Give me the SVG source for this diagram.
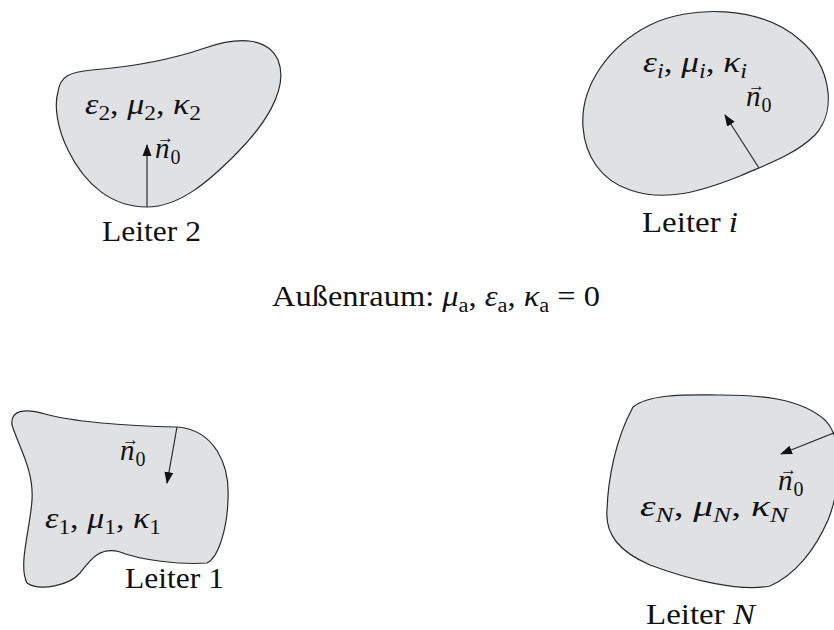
<svg xmlns="http://www.w3.org/2000/svg" width="834" height="630" viewBox="0 0 834 630">
<style>
.blob{fill:#e0e1e3;stroke:#2a2a2a;stroke-width:1.2}
.t{font-family:"Liberation Serif","Times New Roman",serif;font-size:29px;fill:#111}
.mi{font-style:italic}
.sub{font-size:20px}
.vec{font-size:17px;font-style:normal}
.arr{stroke:#2a2a2a;stroke-width:1.2;fill:none;marker-end:url(#ah)}
</style>
<defs>
<marker id="ah" viewBox="0 0 12 10" refX="11" refY="5" markerWidth="12" markerHeight="10" markerUnits="userSpaceOnUse" orient="auto">
<path d="M0,0.5 L12,5 L0,9.5 Z" fill="#111"/>
</marker>
</defs>
<rect width="834" height="630" fill="#fff"/>

<g id="leiter2">
<path class="blob" d="M 58,92 C 60,76 70,72 92,70 C 130,67 170,60 205,48 C 240,36 268,38 278,60 C 290,90 262,128 235,155 C 210,180 180,207 147,207 C 112,207 85,185 68,150 C 57,128 54,105 58,92 Z"/>
<text class="t" x="85" y="114" textLength="116" lengthAdjust="spacingAndGlyphs"><tspan class="mi">ε</tspan><tspan class="sub" dy="6">2</tspan><tspan dy="-6">, </tspan><tspan class="mi">μ</tspan><tspan class="sub" dy="6">2</tspan><tspan dy="-6">, </tspan><tspan class="mi">κ</tspan><tspan class="sub" dy="6">2</tspan></text>
<text class="t" x="155" y="158"><tspan class="mi">n</tspan><tspan class="vec" dx="-12.5" dy="-15">→</tspan><tspan class="sub" dx="-3.5" dy="21">0</tspan></text>
<text class="t" x="102" y="241" textLength="99" lengthAdjust="spacingAndGlyphs">Leiter 2</text>
</g>

<g id="leiteri">
<path class="blob" d="M 583,127 C 580,85 610,45 650,25 C 690,5 760,5 800,40 C 830,65 838,110 815,135 C 795,155 765,165 740,176 C 700,192 665,202 630,190 C 600,180 585,155 583,127 Z"/>
<text class="t" x="643" y="72" textLength="104" lengthAdjust="spacingAndGlyphs"><tspan class="mi">ε</tspan><tspan class="sub mi" dy="6">i</tspan><tspan dy="-6">, </tspan><tspan class="mi">μ</tspan><tspan class="sub mi" dy="6">i</tspan><tspan dy="-6">, </tspan><tspan class="mi">κ</tspan><tspan class="sub mi" dy="6">i</tspan></text>
<text class="t" x="746" y="106"><tspan class="mi">n</tspan><tspan class="vec" dx="-12.5" dy="-15">→</tspan><tspan class="sub" dx="-3.5" dy="21">0</tspan></text>
<text class="t" x="642" y="232" textLength="96" lengthAdjust="spacingAndGlyphs">Leiter <tspan class="mi">i</tspan></text>
</g>

<g id="aussenraum">
<text class="t" x="272" y="306" textLength="328" lengthAdjust="spacingAndGlyphs">Außenraum: <tspan class="mi">μ</tspan><tspan class="sub" dy="6">a</tspan><tspan dy="-6">, </tspan><tspan class="mi">ε</tspan><tspan class="sub" dy="6">a</tspan><tspan dy="-6">, </tspan><tspan class="mi">κ</tspan><tspan class="sub" dy="6">a</tspan><tspan dy="-6"> = 0</tspan></text>
</g>

<g id="leiter1">
<path class="blob" d="M 12,425 C 10,410 25,408 45,414 C 70,421 120,426 177,427 C 215,430 230,465 228,500 C 227,530 218,558 207,563 C 180,565 140,560 120,552 C 100,546 90,560 80,573 C 70,585 40,592 27,583 C 18,565 30,530 32,500 C 34,470 18,445 12,425 Z"/>
<text class="t" x="120" y="460"><tspan class="mi">n</tspan><tspan class="vec" dx="-12.5" dy="-15">→</tspan><tspan class="sub" dx="-3.5" dy="21">0</tspan></text>
<text class="t" x="45" y="528" textLength="116" lengthAdjust="spacingAndGlyphs"><tspan class="mi">ε</tspan><tspan class="sub" dy="6">1</tspan><tspan dy="-6">, </tspan><tspan class="mi">μ</tspan><tspan class="sub" dy="6">1</tspan><tspan dy="-6">, </tspan><tspan class="mi">κ</tspan><tspan class="sub" dy="6">1</tspan></text>
<text class="t" x="125" y="588" textLength="99" lengthAdjust="spacingAndGlyphs">Leiter 1</text>
</g>

<g id="leiterN">
<path class="blob" d="M 633,407 C 650,393 690,395 720,395 C 760,395 800,398 825,420 C 845,440 840,490 828,520 C 815,550 795,575 770,586 C 740,592 690,580 650,565 C 620,552 605,535 607,510 C 608,480 615,440 633,407 Z"/>
<text class="t" x="778" y="490"><tspan class="mi">n</tspan><tspan class="vec" dx="-12.5" dy="-15">→</tspan><tspan class="sub" dx="-3.5" dy="21">0</tspan></text>
<text class="t" x="640" y="516" textLength="148" lengthAdjust="spacingAndGlyphs"><tspan class="mi">ε</tspan><tspan class="sub mi" dy="6">N</tspan><tspan dy="-6">, </tspan><tspan class="mi">μ</tspan><tspan class="sub mi" dy="6">N</tspan><tspan dy="-6">, </tspan><tspan class="mi">κ</tspan><tspan class="sub mi" dy="6">N</tspan></text>
<text class="t" x="646" y="624" textLength="109" lengthAdjust="spacingAndGlyphs">Leiter <tspan class="mi">N</tspan></text>
</g>

<g id="connectors">
<line class="arr" x1="147" y1="207" x2="147" y2="145"/>
<line class="arr" x1="759" y1="168" x2="725" y2="115"/>
<line class="arr" x1="177" y1="427" x2="167" y2="483"/>
<line class="arr" x1="836" y1="432" x2="781" y2="454"/>
</g>
</svg>
